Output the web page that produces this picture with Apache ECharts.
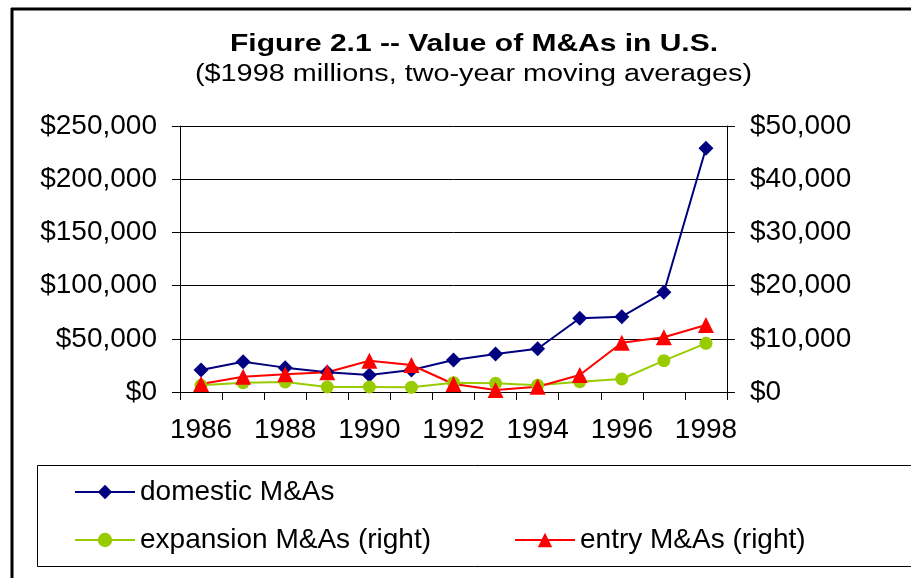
<!DOCTYPE html>
<html>
<head>
<meta charset="utf-8">
<script src="https://cdn.jsdelivr.net/npm/echarts@6/dist/echarts.min.js"></script>
<style>
html,body{margin:0;padding:0;background:#fff;}
#chart{width:911px;height:578px;}
</style>
</head>
<body>
<div id="chart"></div>
<script>
var years = ['1986','1987','1988','1989','1990','1991','1992','1993','1994','1995','1996','1997','1998'];
var domestic = [20700, 28500, 22900, 18500, 16000, 20700, 30000, 35700, 40700, 69300, 70800, 93700, 229000];
var expansion = [1260, 1750, 1880, 940, 940, 880, 1750, 1630, 1260, 1940, 2440, 5890, 9150];
var entry = [1500, 2880, 3330, 3700, 5890, 5080, 1500, 380, 1000, 3200, 9270, 10280, 12600];
var titleText = 'Figure 2.1 -- Value of M&As in U.S.';
var subtitleText = '($1998 millions, two-year moving averages)';
var seriesNames = ['domestic M&As', 'expansion M&As (right)', 'entry M&As (right)'];

var FONT = "'Liberation Sans', Arial, sans-serif";
function measure(text, font) {
  var c = document.createElement('canvas').getContext('2d');
  c.font = font;
  return c.measureText(text).width;
}
var titleFont = 'bold 24px ' + FONT;
var subFont = '23px ' + FONT;
var titleScale = 488 / measure(titleText, titleFont);
var subScale = 557 / measure(subtitleText, subFont);

function money(v) { return '$' + Number(v).toLocaleString('en-US'); }

var chart = echarts.init(document.getElementById('chart'), null, {renderer: 'canvas'});
var axisLabelStyle = {color: '#000', fontSize: 28, fontFamily: FONT};
var legendText = {color: '#000', fontSize: 28, fontFamily: FONT};
function legendCfg(name, left, top) {
  return {data: [name], left: left, top: top, padding: 0, itemWidth: 60, itemHeight: 18, itemGap: 0,
          textStyle: legendText, selectedMode: false};
}
var option = {
  backgroundColor: '#fff',
  animation: false,
  graphic: [
    {type: 'line', shape: {x1: 12, y1: 8, x2: 12, y2: 578}, style: {stroke: '#000', lineWidth: 3}},
    {type: 'line', shape: {x1: 11, y1: 9, x2: 911, y2: 9}, style: {stroke: '#000', lineWidth: 3}},
    {type: 'rect', shape: {x: 37.5, y: 465.5, width: 900, height: 101}, style: {stroke: '#000', lineWidth: 1, fill: 'none'}},
    {type: 'text', x: 474, y: 44, scaleX: titleScale, style: {text: titleText, font: titleFont, fill: '#000', textAlign: 'center', textVerticalAlign: 'middle'}},
    {type: 'text', x: 473.5, y: 75, scaleX: subScale, style: {text: subtitleText, font: subFont, fill: '#000', textAlign: 'center', textVerticalAlign: 'middle'}}
  ],
  grid: {left: 180, right: 184, top: 126, bottom: 186, containLabel: false},
  xAxis: {
    type: 'category',
    data: years,
    boundaryGap: true,
    axisLine: {lineStyle: {color: '#000', width: 1}},
    axisTick: {show: true, interval: 0, length: 8, lineStyle: {color: '#000'}},
    axisLabel: Object.assign({interval: 1, margin: 24}, axisLabelStyle),
    splitLine: {show: false}
  },
  yAxis: [
    {
      type: 'value', min: 0, max: 250000, interval: 50000, position: 'left',
      axisLine: {show: true, lineStyle: {color: '#000', width: 1}},
      axisTick: {show: true, length: 8, lineStyle: {color: '#000'}},
      axisLabel: Object.assign({margin: 23, formatter: money}, axisLabelStyle),
      splitLine: {show: true, lineStyle: {color: '#000', width: 1}}
    },
    {
      type: 'value', min: 0, max: 50000, interval: 10000, position: 'right',
      axisLine: {show: true, lineStyle: {color: '#000', width: 1}},
      axisTick: {show: true, length: 8, lineStyle: {color: '#000'}},
      axisLabel: Object.assign({margin: 23, formatter: money}, axisLabelStyle),
      splitLine: {show: false}
    }
  ],
  legend: [
    legendCfg(seriesNames[0], 74, 478),
    legendCfg(seriesNames[1], 74, 526),
    legendCfg(seriesNames[2], 514, 526)
  ],
  series: [
    {
      name: seriesNames[0], type: 'line', yAxisIndex: 0, data: domestic,
      symbol: 'diamond', symbolSize: 15, showAllSymbol: true,
      lineStyle: {color: '#000080', width: 2}, itemStyle: {color: '#000080'}
    },
    {
      name: seriesNames[1], type: 'line', yAxisIndex: 1, data: expansion,
      symbol: 'circle', symbolSize: 13, showAllSymbol: true,
      lineStyle: {color: '#99CC00', width: 2}, itemStyle: {color: '#99CC00'}
    },
    {
      name: seriesNames[2], type: 'line', yAxisIndex: 1, data: entry,
      symbol: 'triangle', symbolSize: 16, showAllSymbol: true,
      lineStyle: {color: '#FF0000', width: 2}, itemStyle: {color: '#FF0000'}
    }
  ]
};
chart.setOption(option);
</script>
</body>
</html>
